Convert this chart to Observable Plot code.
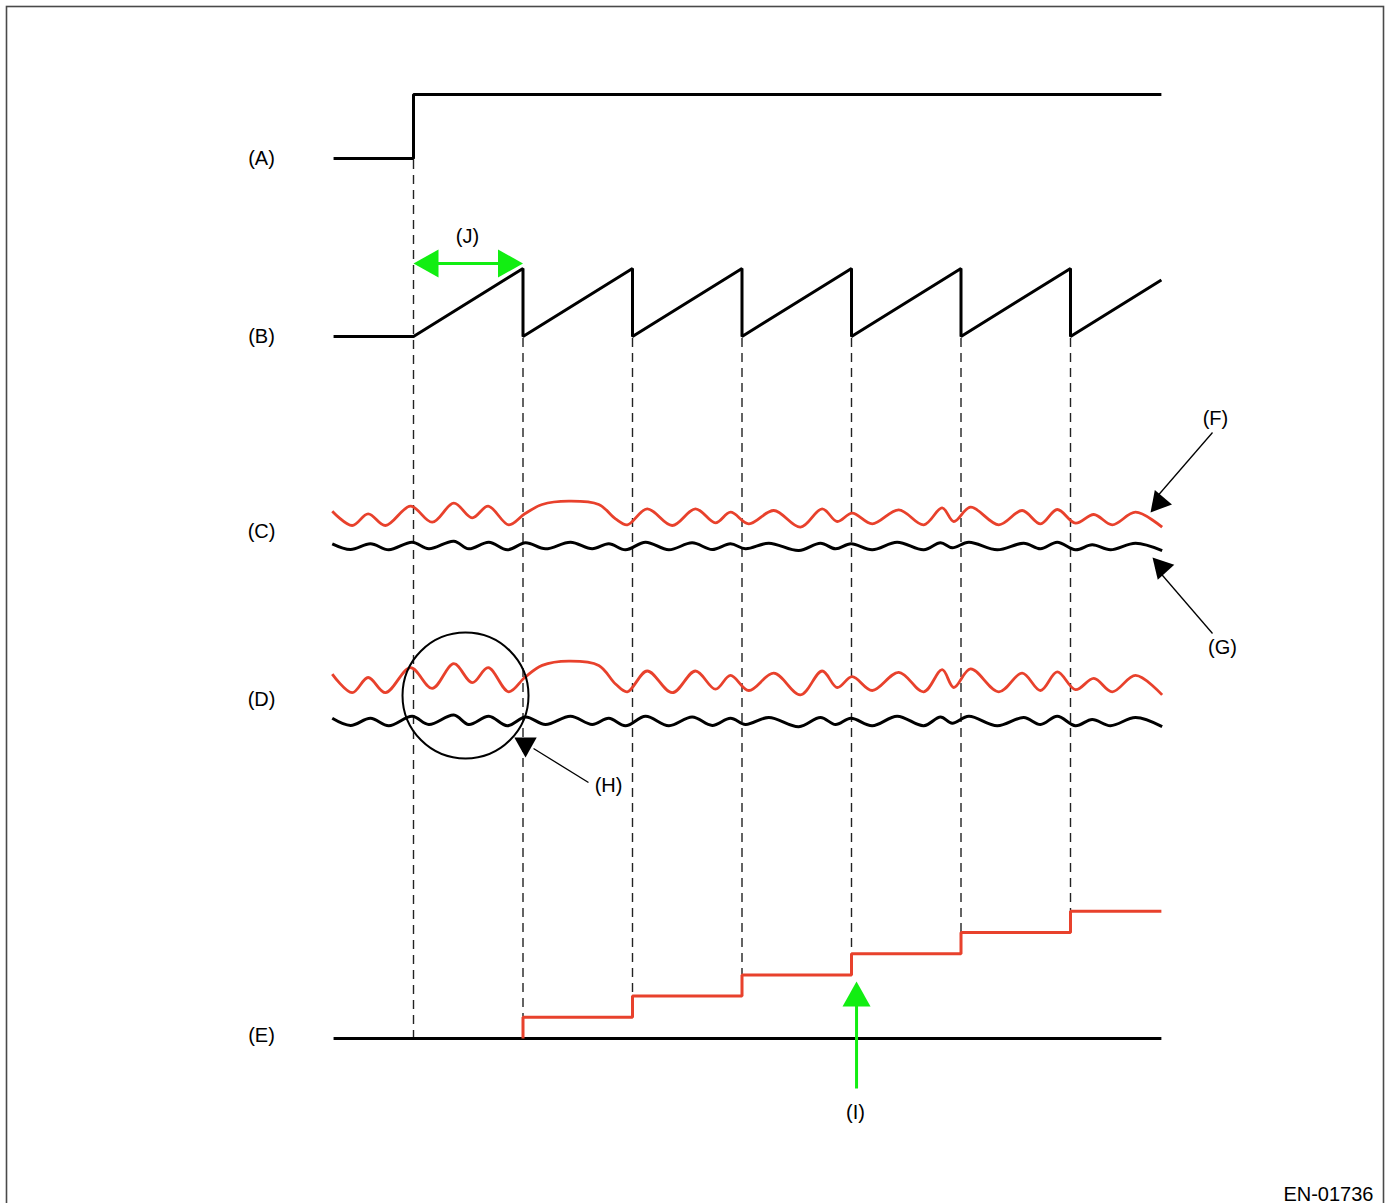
<!DOCTYPE html>
<html>
<head>
<meta charset="utf-8">
<script src="https://cdn.jsdelivr.net/npm/d3@7"></script>
<script src="https://cdn.jsdelivr.net/npm/@observablehq/plot@0.6"></script>
<style>
  html, body { margin: 0; padding: 0; background: #fff; }
  #chart svg { display: block; }
</style>
</head>
<body>
<div id="chart"></div>
<script>
// ---------- DATA (time in trigger periods, levels in signal units) ----------
const laneLabels = ["(A)", "(B)", "(C)", "(D)", "(E)"];
const calloutLabels = ["(F)", "(G)", "(H)", "(I)", "(J)"];
const figureCode = "EN-01736";

// (A) trigger signal: low, then high from t = 0
const aTimes  = [-0.73, 0, 0, 6.83];
const aLevels = [0, 0, 1, 1];

// (B) sawtooth: ramps each period, resets at every period boundary
const bTimes  = [-0.73, 0, 1, 1, 2, 2, 3, 3, 4, 4, 5, 5, 6, 6, 6.83];
const bLevels = [0, 0, 1, 0, 1, 0, 1, 0, 1, 0, 1, 0, 1, 0, 0.83];

// (C)/(D) waveforms: extremes
const redWaveTimes = [-0.742, -0.560, -0.414, -0.256, -0.027, 0.171, 0.368, 0.536, 0.682, 0.870,
  1.016, 1.175, 1.418, 1.692, 1.845, 1.952, 2.134, 2.363, 2.575, 2.758, 2.895, 3.062, 3.290,
  3.534, 3.732, 3.869, 4.006, 4.189, 4.432, 4.660, 4.828, 4.934, 5.087, 5.345, 5.559, 5.726,
  5.879, 6.046, 6.213, 6.381, 6.594, 6.837];
const redWaveLevels = [0.53, -0.90, 0.27, -0.90, 1.03, -0.57, 1.33, -0.13, 1.03, -0.83,
  0.27, 1.20, 1.53, 1.20, -0.23, -0.83, 0.77, -0.90, 0.77, -0.63, 0.43, -0.73, 0.60,
  -1.07, 0.77, -0.50, 0.33, -0.73, 0.67, -0.83, 0.87, -0.50, 0.93, -0.83, 0.60, -0.73,
  0.70, -0.67, 0.20, -0.83, 0.43, -1.07];
const blackWaveTimes = [-0.742, -0.575, -0.393, -0.226, -0.012, 0.140, 0.368, 0.505, 0.688, 0.856,
  1.023, 1.205, 1.434, 1.632, 1.784, 1.936, 2.119, 2.332, 2.545, 2.728, 2.895, 3.032, 3.245,
  3.519, 3.717, 3.854, 3.995, 4.189, 4.417, 4.660, 4.813, 4.920, 5.071, 5.331, 5.573, 5.726,
  5.879, 6.046, 6.198, 6.365, 6.594, 6.837];
const blackWaveLevels = [0.55, -0.88, 0.55, -0.95, 0.95, -0.70, 1.20, -0.70, 0.95, -0.95,
  0.80, -0.70, 0.95, -0.70, 0.55, -0.95, 0.95, -0.95, 0.80, -0.88, 0.55, -0.70, 0.70,
  -1.13, 0.70, -0.70, 0.55, -0.95, 0.95, -0.95, 0.80, -0.45, 0.95, -0.95, 0.70, -0.70,
  0.95, -0.95, 0.30, -0.95, 0.70, -1.13];

// (E) counter: increments by one at each period boundary
const stepTimes = [1, 2, 3, 4, 5, 6];
const counterLevels = [1, 2, 3, 4, 5, 6];
const tStart = -0.73, tEnd = 6.83;

// ---------- LAYOUT / STYLE ----------
const W = 1385, H = 1203;
const lane = {
  A: {base: 158, gain: 64},
  B: {base: 336, gain: 68},
  Cred: {base: 516, gain: 10}, Cblack: {base: 545.5, gain: 4},
  Dred: {base: 680.5, gain: 13}, Dblack: {base: 720.5, gain: 5},
  E: {base: 1038, gain: 21.2}
};
const labelT = -1.388;
const labelY = [158, 336, 531, 699, 1035];
const RED = "#e8412c", GREEN = "#12ee12", FONT = "Liberation Sans, Arial, Helvetica, sans-serif";

const toPts = (ts, vs, l) => ts.map((t, i) => ({t, y: l.base - vs[i] * l.gain}));
const ptsA = toPts(aTimes, aLevels, lane.A);
const ptsB = toPts(bTimes, bLevels, lane.B);
const ptsCred = toPts(redWaveTimes, redWaveLevels, lane.Cred);
const ptsCblack = toPts(blackWaveTimes, blackWaveLevels, lane.Cblack);
const ptsDred = toPts(redWaveTimes, redWaveLevels, lane.Dred);
const ptsDblack = toPts(blackWaveTimes, blackWaveLevels, lane.Dblack);
const ptsEbase = toPts([tStart, tEnd], [0, 0], lane.E);
const counterT = [stepTimes[0], ...stepTimes, tEnd];
const counterV = [0, ...counterLevels, counterLevels[counterLevels.length - 1]];
const ptsEred = toPts(counterT, counterV, lane.E);

const dashes = [{t: 0, y1: lane.A.base + 2, y2: lane.E.base}]
  .concat(stepTimes.map((t, i) => ({t, y1: lane.B.base + 2, y2: lane.E.base - counterLevels[i] * lane.E.gain})));

// filled triangular arrow head, tip at the anchor point, pointing up before rotation
const head = {draw(ctx, size) {
  const r = Math.sqrt(size / Math.PI), w = r * 0.56;
  ctx.moveTo(0, 0); ctx.lineTo(-w, r); ctx.lineTo(w, r); ctx.closePath();
}};

const texts = laneLabels.map((s, i) => ({t: labelT, y: labelY[i], s}))
  .concat([
    {t: 7.324, y: 418, s: calloutLabels[0]},
    {t: 7.388, y: 647, s: calloutLabels[1]},
    {t: 1.781, y: 785, s: calloutLabels[2]},
    {t: 4.037, y: 1112, s: calloutLabels[3]},
    {t: 0.493, y: 236, s: calloutLabels[4]}
  ]);

const leaders = [
  {t1: 6.760, y1: 500, t2: 7.297, y2: 432},   // F
  {t1: 6.778, y1: 567, t2: 7.297, y2: 633},   // G
  {t1: 1.096, y1: 748, t2: 1.598, y2: 782}    // H
];
const blackHeads = [
  {t: 6.731, y: 512, r: -140},
  {t: 6.749, y: 557, r: -42.5},
  {t: 1.023, y: 757, r: 180}
];
const greenHeads = [
  {t: 0, y: 263, r: -90},
  {t: 1, y: 263, r: 90},
  {t: 4.046, y: 981, r: 0}
];
const greenShafts = [
  {t1: 0.15, y1: 263, t2: 0.85, y2: 263},
  {t1: 4.046, y1: 1000, t2: 4.046, y2: 1088}
];

const lineOpts = (stroke, w, curve = "linear") => ({x: "t", y: "y", stroke, strokeWidth: w, curve, strokeLinejoin: "round", strokeLinecap: "butt"});

const chart = Plot.plot({
  width: W, height: H, margin: 0,
  x: {domain: [0, 1], range: [413, 522.5], axis: null},
  y: {domain: [0, H], range: [0, H], axis: null},
  style: {background: "#fff", overflow: "visible"},
  marks: [
    Plot.frame({stroke: "#4a4a4a", strokeWidth: 1.6, insetLeft: 6, insetTop: 6, insetRight: 2, insetBottom: -20}),
    Plot.ruleX(dashes, {x: "t", y1: "y1", y2: "y2", stroke: "#222", strokeWidth: 1.4, strokeDasharray: "9,6"}),
    Plot.line(ptsA, {...lineOpts("#000", 3), strokeLinejoin: "miter"}),
    Plot.line(ptsB, {...lineOpts("#000", 3), strokeLinejoin: "miter"}),
    Plot.line(ptsCred, lineOpts(RED, 2.8, "catmull-rom")),
    Plot.line(ptsCblack, lineOpts("#000", 3, "catmull-rom")),
    Plot.line(ptsDred, lineOpts(RED, 2.8, "catmull-rom")),
    Plot.line(ptsDblack, lineOpts("#000", 3, "catmull-rom")),
    Plot.line(ptsEbase, lineOpts("#000", 3)),
    Plot.line(ptsEred, {...lineOpts(RED, 3, "step-after"), strokeLinejoin: "miter"}),
    Plot.dot([{t: 0.475, y: 695}], {x: "t", y: "y", r: 63, fill: "none", stroke: "#000", strokeWidth: 2}),
    Plot.link(leaders, {x1: "t1", y1: "y1", x2: "t2", y2: "y2", stroke: "#000", strokeWidth: 1.3}),
    Plot.dot(blackHeads, {x: "t", y: "y", rotate: "r", symbol: head, r: 20, fill: "#000", stroke: "none"}),
    Plot.link(greenShafts, {x1: "t1", y1: "y1", x2: "t2", y2: "y2", stroke: GREEN, strokeWidth: 3}),
    Plot.dot(greenHeads, {x: "t", y: "y", rotate: "r", symbol: head, r: 25, fill: GREEN, stroke: "none"}),
    Plot.text(texts, {x: "t", y: "y", text: "s", fontSize: 20, fontFamily: FONT, fill: "#000"}),
    Plot.text([{t: 8.767, y: 1194, s: figureCode}], {x: "t", y: "y", text: "s", textAnchor: "end", fontSize: 20, fontFamily: FONT, fill: "#000"})
  ]
});
document.getElementById("chart").appendChild(chart);
</script>
</body>
</html>
